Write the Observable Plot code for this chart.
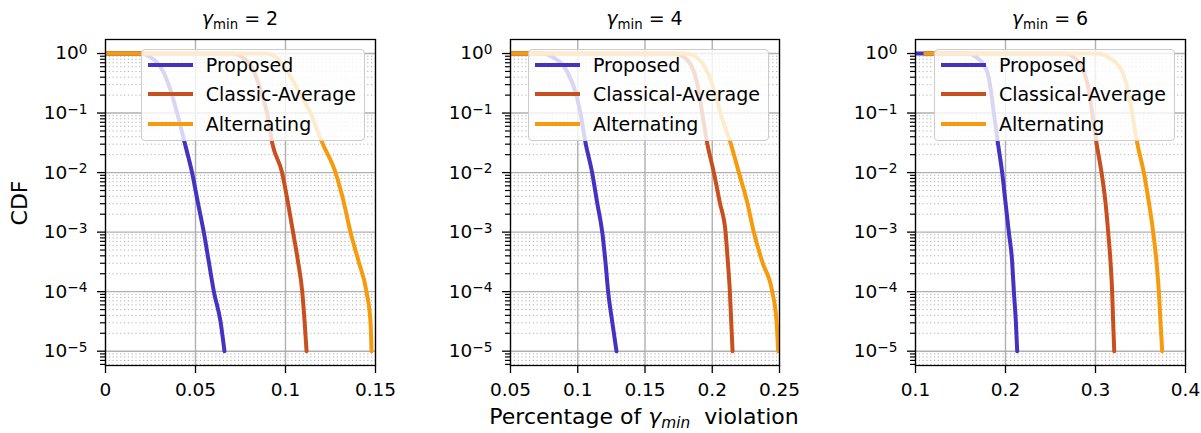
<!DOCTYPE html>
<html><head><meta charset="utf-8">
<script src="https://cdn.jsdelivr.net/npm/d3@7"></script>
<script src="https://cdn.jsdelivr.net/npm/@observablehq/plot@0.6"></script>
<style>
body{margin:0;background:#fff;font-family:"DejaVu Sans",sans-serif;}
#wrap{position:relative;width:1201px;height:433px;overflow:hidden;background:#fff;}
.panel{position:absolute;top:0;height:433px;}
.panel svg{position:absolute;left:0;top:0;}
.title{position:absolute;top:7px;text-align:center;font-size:19px;line-height:22px;white-space:nowrap;}
.sub{font-size:0.7em;position:relative;top:0.28em;}
.legend{position:absolute;top:49px;background:rgba(255,255,255,0.8);border:1px solid #cccccc;border-radius:4px;padding:0 8px 1px 0;}
.row{display:flex;align-items:center;height:29.5px;font-size:19px;white-space:nowrap;}
.sw{width:45px;height:4px;margin-left:6px;margin-right:13px;}
.ylab{position:absolute;left:18.5px;top:203px;transform:translate(-50%,-50%) rotate(-90deg);font-size:22px;white-space:nowrap;}
.xlab{position:absolute;left:644px;top:406px;transform:translateX(-50%);font-size:22px;line-height:22px;white-space:nowrap;}
</style></head>
<body><div id="wrap"></div>
<script>
// ---- data ----
const titleValues = ["2", "4", "6"];
const seriesNames = [
  ["Proposed", "Classic-Average", "Alternating"],
  ["Proposed", "Classical-Average", "Alternating"],
  ["Proposed", "Classical-Average", "Alternating"]
];
const seriesColors = ["#4433c0", "#c8501e", "#f59b0d"];
const cdfLevels = [1, 1, 0.9, 0.5, 0.2, 0.1, 0.0316, 0.01, 0.00316, 0.001, 0.000316, 0.0001, 0.0000316, 0.00001];
// panel 1 (gamma_min = 2)
const p1Proposed    = [0, 0.020, 0.024, 0.032, 0.037, 0.0398, 0.044, 0.0481, 0.0513, 0.0546, 0.0574, 0.0602, 0.0639, 0.0661];
const p1Classic     = [0, 0.0705, 0.075, 0.0824, 0.087, 0.0898, 0.0926, 0.0981, 0.1013, 0.1042, 0.107, 0.1093, 0.1106, 0.1117];
const p1Alternating = [0, 0.0885, 0.094, 0.101, 0.1085, 0.1139, 0.1204, 0.1278, 0.1324, 0.1361, 0.1407, 0.145, 0.1472, 0.1478];
// panel 2 (gamma_min = 4)
const p2Proposed    = [0.05, 0.0740, 0.08, 0.0921, 0.099, 0.102, 0.1058, 0.1107, 0.1144, 0.1182, 0.1206, 0.1226, 0.1256, 0.1288];
const p2Classic     = [0.05, 0.172, 0.178, 0.1863, 0.1905, 0.1925, 0.1962, 0.2012, 0.2056, 0.2099, 0.2116, 0.2131, 0.2141, 0.2151];
const p2Alternating = [0.05, 0.180, 0.187, 0.1962, 0.2025, 0.2061, 0.2136, 0.2198, 0.226, 0.2309, 0.2372, 0.2446, 0.2478, 0.249];
// panel 3 (gamma_min = 6)
const p3Proposed    = [0.1, 0.159, 0.166, 0.1796, 0.1845, 0.187, 0.1915, 0.1963, 0.2, 0.2037, 0.2074, 0.2093, 0.2115, 0.213];
const p3Classic     = [0.111, 0.266, 0.274, 0.287, 0.2935, 0.2963, 0.3011, 0.3067, 0.3111, 0.3141, 0.3167, 0.3185, 0.3196, 0.3208];
const p3Alternating = [0.111, 0.303, 0.312, 0.3296, 0.337, 0.3407, 0.3463, 0.3537, 0.3593, 0.3641, 0.3678, 0.3704, 0.3722, 0.3741];
const panelSeries = [
  [p1Proposed, p1Classic, p1Alternating],
  [p2Proposed, p2Classic, p2Alternating],
  [p3Proposed, p3Classic, p3Alternating]
];
const xDomains = [[0, 0.15], [0.05, 0.25], [0.1, 0.4]];
const xTicks = [[0, 0.05, 0.1, 0.15], [0.05, 0.1, 0.15, 0.2, 0.25], [0.1, 0.2, 0.3, 0.4]];
const xTickLabels = [["0", "0.05", "0.1", "0.15"], ["0.05", "0.1", "0.15", "0.2", "0.25"], ["0.1", "0.2", "0.3", "0.4"]];
const yDomain = [5.75e-6, 1.72];
const yTicks = [1, 0.1, 0.01, 0.001, 0.0001, 0.00001];
const yTickExponents = ["0", "\u22121", "\u22122", "\u22123", "\u22124", "\u22125"];
const minorMultipliers = [2, 3, 4, 5, 6, 7, 8, 9];

// ---- layout ----
const layout = [
  {left: 0,   width: 400, ml: 105, mr: 25},
  {left: 400, width: 400, ml: 110, mr: 21},
  {left: 800, width: 401, ml: 115, mr: 16}
];
const H = 433, MT = 39, MB = 68;

const yMinor = [];
[0.000001, ...yTicks].forEach(d => minorMultipliers.forEach(m => {
  const v = d * m; if (v > yDomain[0] && v < yDomain[1] && v < 1) yMinor.push(v);
}));

const wrap = document.getElementById("wrap");

layout.forEach((L, i) => {
  const rows = [];
  panelSeries[i].forEach((xs, s) => xs.forEach((x, k) => rows.push({x, y: cdfLevels[k], s})));
  const tickLabel = new Map(xTicks[i].map((t, k) => [t, xTickLabels[i][k]]));
  const svg = Plot.plot({
    width: L.width, height: H,
    marginLeft: L.ml, marginRight: L.mr, marginTop: MT, marginBottom: MB,
    style: {fontFamily: "DejaVu Sans", fontSize: "18.5px", color: "black", background: "transparent"},
    x: {domain: xDomains[i]},
    y: {type: "log", domain: yDomain},
    marks: [
      Plot.ruleY(yMinor, {stroke: "#b0b0b0", strokeWidth: 1, strokeDasharray: "1.2,2.6"}),
      Plot.ruleY(yTicks, {stroke: "#b0b0b0", strokeWidth: 1.4}),
      Plot.ruleX(xTicks[i], {stroke: "#b0b0b0", strokeWidth: 1.4}),
      Plot.line(rows, {x: "x", y: "y", z: "s", stroke: d => seriesColors[d.s], strokeWidth: 4, curve: "monotone-x", clip: true}),
      Plot.axisY({ticks: yMinor, tickSize: 5, tickFormat: () => "", label: null, strokeWidth: 1.2}),
      Plot.axisY({ticks: yTicks, tickSize: 8, tickPadding: 10, fontSize: 18.5, tickFormat: (d) => "10^" + yTickExponents[yTicks.indexOf(d)], label: null, strokeWidth: 1.3}),
      Plot.axisX({ticks: xTicks[i], tickSize: 8, tickPadding: 9, fontSize: 18.5, tickFormat: d => tickLabel.get(d), label: null, strokeWidth: 1.3}),
      Plot.frame({stroke: "black", strokeWidth: 1.3})
    ]
  });
  // superscript exponents on y tick labels
  svg.querySelectorAll('[aria-label="y-axis tick label"] text').forEach(t => {
    const m = /^10\^(.*)$/.exec(t.textContent);
    if (!m) return;
    t.textContent = "10";
    const ts = document.createElementNS("http://www.w3.org/2000/svg", "tspan");
    ts.setAttribute("dy", "-0.4em");
    ts.setAttribute("font-size", "0.74em");
    ts.textContent = m[1];
    t.appendChild(ts);
  });
  const panel = document.createElement("div");
  panel.className = "panel";
  panel.style.left = L.left + "px";
  panel.style.width = L.width + "px";
  panel.appendChild(svg);

  const title = document.createElement("div");
  title.className = "title";
  title.style.left = L.ml + "px";
  title.style.width = (L.width - L.ml - L.mr) + "px";
  title.innerHTML = '<i>\u03b3</i><span class="sub">min</span> = ' + titleValues[i];
  panel.appendChild(title);

  const leg = document.createElement("div");
  leg.className = "legend";
  leg.style.right = (L.mr + 10) + "px";
  seriesNames[i].forEach((n, s) => {
    const r = document.createElement("div");
    r.className = "row";
    r.innerHTML = '<div class="sw" style="background:' + seriesColors[s] + '"></div><span>' + n + '</span>';
    leg.appendChild(r);
  });
  panel.appendChild(leg);
  wrap.appendChild(panel);
});

const yl = document.createElement("div");
yl.className = "ylab"; yl.textContent = "CDF";
wrap.appendChild(yl);
const xl = document.createElement("div");
xl.className = "xlab";
xl.innerHTML = 'Percentage of <i>\u03b3<span class="sub">min</span></i>&nbsp; violation';
wrap.appendChild(xl);
</script>
</body></html>
